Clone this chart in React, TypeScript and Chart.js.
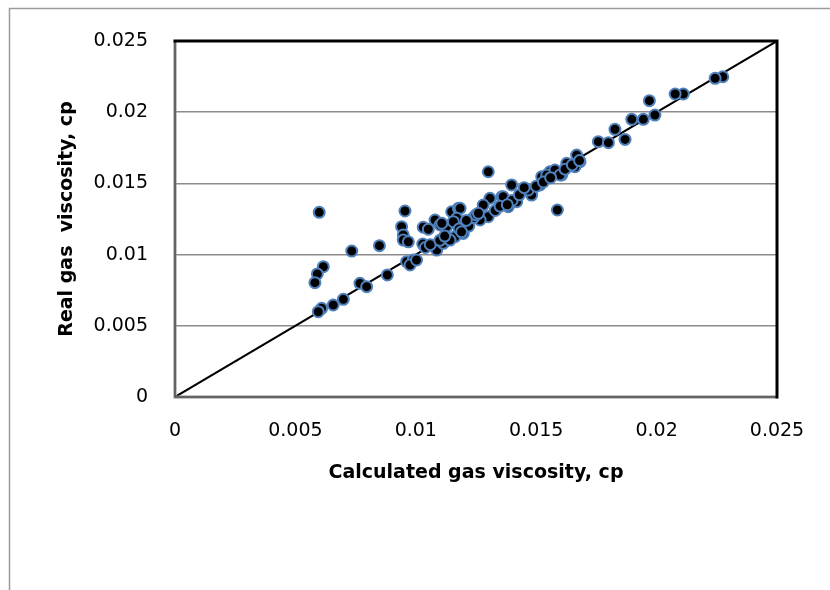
import React, { useEffect, useRef } from "react";
import { Chart, registerables } from "chart.js";

Chart.register(...registerables);

const calcViscosity = [
  0.00599, 0.00955, 0.00941, 0.00948, 0.00948, 0.00969, 0.00734, 0.00849, 0.00616, 0.00591,
  0.00581, 0.00768, 0.00796, 0.00882, 0.00699, 0.00657, 0.00609, 0.00595, 0.00962, 0.0099,
  0.00976, 0.01029, 0.01031, 0.01052, 0.0108, 0.01101, 0.01087, 0.01114, 0.01149, 0.0117,
  0.01163, 0.01177, 0.01758, 0.01301, 0.01588, 0.01668, 0.01682, 0.01661, 0.01627, 0.01606,
  0.01557, 0.01523, 0.01516, 0.01481, 0.01398, 0.01419, 0.01357, 0.01384, 0.01308, 0.0128,
  0.01301, 0.01267, 0.01184, 0.0117, 0.01211, 0.01197, 0.01128, 0.01108, 0.01467, 0.01544,
  0.01578, 0.02275, 0.02243, 0.02111, 0.02077, 0.0197, 0.01993, 0.01945, 0.01897, 0.01827,
  0.01869, 0.018, 0.01156, 0.01142, 0.01363, 0.01599, 0.01003, 0.0104, 0.0106, 0.011,
  0.0112, 0.0118, 0.0122, 0.0124, 0.0125, 0.0133, 0.0135, 0.014, 0.0143, 0.0145,
  0.015, 0.0153, 0.0156, 0.0162, 0.0165, 0.0168, 0.0119, 0.0121, 0.0126, 0.0138,
];

const realViscosity = [
  0.01297, 0.01306, 0.01196, 0.01138, 0.01102, 0.0109, 0.01025, 0.01063, 0.00915, 0.00864,
  0.00803, 0.00798, 0.00775, 0.00857, 0.00686, 0.00646, 0.00623, 0.00599, 0.0095, 0.00962,
  0.00927, 0.01074, 0.01192, 0.01178, 0.01243, 0.01208, 0.01032, 0.01079, 0.01301, 0.01243,
  0.01126, 0.01325, 0.01793, 0.01582, 0.01313, 0.01699, 0.01652, 0.01617, 0.01641, 0.01559,
  0.01582, 0.01547, 0.01489, 0.01418, 0.01489, 0.01371, 0.01406, 0.01336, 0.01395, 0.01348,
  0.01266, 0.01243, 0.01325, 0.01255, 0.01231, 0.01149, 0.01196, 0.0122, 0.01454, 0.01559,
  0.01594, 0.02249, 0.02238, 0.02128, 0.02128, 0.02081, 0.0198, 0.0195, 0.0195, 0.0188,
  0.01809, 0.01786, 0.01231, 0.01102, 0.01406, 0.01559, 0.00962, 0.0105, 0.0107, 0.011,
  0.0113, 0.0118, 0.012, 0.0126, 0.0128, 0.0131, 0.0134, 0.0138, 0.0142, 0.0147,
  0.0148, 0.0151, 0.0154, 0.016, 0.0163, 0.0166, 0.0116, 0.0124, 0.0129, 0.0135,
];

const lineX = [0, 0.025];
const lineY = [0, 0.025];

const xTickLabels = ["0", "0.005", "0.01", "0.015", "0.02", "0.025"];
const yTickLabels = ["0", "0.005", "0.01", "0.015", "0.02", "0.025"];

const xTitle = "Calculated gas viscosity, cp";
const yTitle = "Real gas  viscosity, cp";

const framePlugin = {
  id: "framePlugin",
  beforeDraw(chart: any) {
    const { ctx, width, height } = chart;
    ctx.save();
    ctx.fillStyle = "#ffffff";
    ctx.fillRect(0, 0, width, height);
    ctx.strokeStyle = "#9a9a9a";
    ctx.lineWidth = 1.5;
    ctx.beginPath();
    ctx.moveTo(9.5, height + 5);
    ctx.lineTo(9.5, 8.5);
    ctx.lineTo(width + 5, 8.5);
    ctx.stroke();
    ctx.restore();
  },
  afterDatasetsDraw(chart: any) {
    const { ctx, chartArea } = chart;
    const { left, right, top, bottom } = chartArea;
    ctx.save();
    ctx.strokeStyle = "#8c8c8c";
    ctx.lineWidth = 3;
    ctx.beginPath();
    ctx.moveTo(left, top);
    ctx.lineTo(left, bottom);
    ctx.lineTo(right, bottom);
    ctx.stroke();
    ctx.strokeStyle = "#3a3a3a";
    ctx.lineWidth = 1;
    ctx.beginPath();
    ctx.moveTo(left, top);
    ctx.lineTo(left, bottom);
    ctx.lineTo(right, bottom);
    ctx.stroke();
    ctx.strokeStyle = "#000000";
    ctx.lineWidth = 3;
    ctx.beginPath();
    ctx.moveTo(left - 1.5, top);
    ctx.lineTo(right, top);
    ctx.lineTo(right, bottom + 1.5);
    ctx.stroke();
    ctx.restore();
  },
};

export default function App() {
  const canvasRef = useRef<HTMLCanvasElement | null>(null);

  useEffect(() => {
    if (!canvasRef.current) return;
    const points = calcViscosity.map((x, i) => ({ x, y: realViscosity[i] }));
    const linePts = lineX.map((x, i) => ({ x, y: lineY[i] }));
    const tickFont = { family: "DejaVu Sans", size: 19 };
    const titleFont = { family: "DejaVu Sans", size: 19, weight: "bold" as const };
    const chart = new Chart(canvasRef.current, {
      type: "scatter",
      data: {
        datasets: [
          {
            type: "scatter",
            label: "Data",
            data: points,
            backgroundColor: "#000000",
            borderColor: "#4f81bd",
            borderWidth: 2,
            pointRadius: 5.5,
            order: 0,
          },
          {
            type: "line",
            label: "Line",
            data: linePts,
            borderColor: "#000000",
            borderWidth: 2,
            pointRadius: 0,
            fill: false,
            order: 1,
          } as any,
        ],
      },
      options: {
        animation: false,
        responsive: false,
        devicePixelRatio: 1,
        layout: { padding: { top: 41, right: 53, left: 0, bottom: 0 } },
        plugins: { legend: { display: false }, tooltip: { enabled: false } },
        scales: {
          x: {
            type: "linear",
            min: 0,
            max: 0.025,
            afterFit: (scale: any) => {
              scale.height = 193;
            },
            ticks: {
              stepSize: 0.005,
              color: "#000000",
              font: tickFont,
              padding: 23,
              maxRotation: 0,
              callback: (_v: any, i: number) => xTickLabels[i],
            },
            grid: { display: false, drawTicks: false },
            border: { display: false },
            title: {
              display: true,
              text: xTitle,
              color: "#000000",
              font: titleFont,
              padding: { top: 0, bottom: 106 },
            },
          },
          y: {
            type: "linear",
            min: 0,
            max: 0.025,
            afterFit: (scale: any) => {
              scale.width = 175;
            },
            ticks: {
              stepSize: 0.005,
              color: "#000000",
              font: tickFont,
              padding: 27,
              callback: (_v: any, i: number) => yTickLabels[i],
            },
            grid: {
              color: (c: any) =>
                c.index === 0 || c.index === 5 ? "rgba(0,0,0,0)" : "#8c8c8c",
              lineWidth: 1.5,
              drawTicks: false,
            },
            border: { display: false },
            title: {
              display: true,
              text: yTitle,
              color: "#000000",
              font: titleFont,
              padding: { top: 56, bottom: 0 },
            },
          },
        },
      },
      plugins: [framePlugin],
    });
    return () => chart.destroy();
  }, []);

  return (
    <div style={{ position: "fixed", left: 0, top: 0, width: 830, height: 590, background: "#fff" }}>
      <canvas ref={canvasRef} width={830} height={590} style={{ display: "block" }} />
    </div>
  );
}
